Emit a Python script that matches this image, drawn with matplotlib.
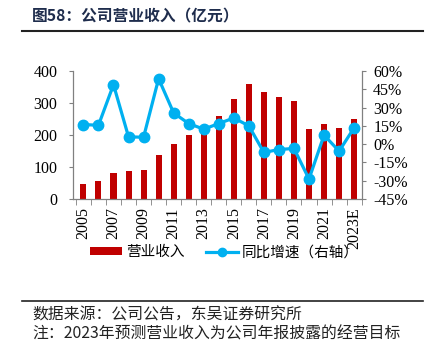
import matplotlib
matplotlib.use("Agg")
import matplotlib.pyplot as plt
from matplotlib.patches import Patch
from matplotlib.lines import Line2D
from matplotlib.ticker import FixedLocator, FuncFormatter

plt.rcParams['font.family'] = ['Liberation Serif', 'Noto Sans CJK SC', 'DejaVu Sans']

years = ['2005', '2006', '2007', '2008', '2009', '2010', '2011', '2012', '2013',
         '2014', '2015', '2016', '2017', '2018', '2019', '2020', '2021', '2022', '2023E']
revenue = [48, 56, 82, 87, 90, 138, 172, 200, 222,
           260, 314, 360, 334, 320, 307, 220, 235, 221, 249]
growth = [16.1, 15.5, 48.8, 6.0, 5.7, 53.7, 25.6, 16.9, 12.3,
          16.9, 21.5, 15.0, -6.8, -4.4, -3.5, -28.6, 7.4, -5.7, 13.4]

bar_color = '#C00000'
line_color = '#00B0F0'
axis_gray = '#808080'
cjk = ['Noto Sans CJK SC', 'DejaVu Sans']

fig = plt.figure(figsize=(4.27, 3.42), dpi=100)
ax = fig.add_axes([0.1700, 0.418, 0.678, 0.3744])
x = list(range(len(years)))

ax.bar(x, revenue, width=0.4, color=bar_color, zorder=2)
ax.set_ylim(0, 400)
ax.set_yticks([0, 100, 200, 300, 400])
ax.set_xlim(-0.72, len(years) - 0.47)

ax2 = ax.twinx()
ax2.plot(x, growth, color=line_color, lw=2.3, marker='o', ms=7.5, zorder=3)
ax2.set_ylim(-45, 60)
ax2.set_yticks(range(-45, 61, 15))
ax2.yaxis.set_major_formatter(FuncFormatter(lambda v, p: f'{int(v)}%'))

# category labels every other year, tick marks on category boundaries
ax.set_xticks([i for i in x if i % 2 == 0])
ax.set_xticklabels([years[i] for i in x if i % 2 == 0], rotation=90, fontsize=11.5)
ax.xaxis.set_minor_locator(FixedLocator([i - 0.5 for i in x] + [len(years) - 0.5]))
ax.tick_params(axis='x', which='major', length=0, pad=6)
ax.tick_params(axis='x', which='minor', length=4, color=axis_gray, direction='out')
ax.tick_params(axis='y', length=3, color=axis_gray, labelsize=11.5, pad=8)
ax2.tick_params(axis='y', length=3, color=axis_gray, labelsize=11.5, pad=5)

for a in (ax, ax2):
    a.spines['top'].set_visible(False)
    for s in ('left', 'right', 'bottom'):
        a.spines[s].set_color(axis_gray)
        a.spines[s].set_linewidth(0.9)
ax.spines['right'].set_visible(False)
ax2.spines['left'].set_visible(False)
ax2.spines['bottom'].set_visible(False)

handles = [Patch(facecolor=bar_color, edgecolor='none'),
           Line2D([0], [0], color=line_color, lw=2.3, marker='o', ms=6)]
leg = fig.legend(handles, ['营业收入', '同比增速（右轴）'], loc='center left',
                 bbox_to_anchor=(0.18, 0.262), ncol=2, frameon=False,
                 prop={'family': cjk, 'size': 10.5}, handlelength=2.2,
                 handleheight=0.5, handletextpad=0.25, columnspacing=1.5)
leg.set_zorder(5)

fig.text(0.075, 0.953, '图58：公司营业收入（亿元）', family=cjk, fontsize=11.3,
         fontweight='bold', color='#1F2D4D', va='center', ha='left')
fig.add_artist(Line2D([0.052, 0.99], [0.909, 0.909], color='#222222', lw=1.5))
fig.add_artist(Line2D([0.052, 0.99], [0.12, 0.12], color='#222222', lw=1.2))
fig.text(0.075, 0.078, '数据来源：公司公告，东吴证券研究所', family=cjk, fontsize=11.4,
         va='center', ha='left', color='#222222')
fig.text(0.075, 0.022, '注：2023年预测营业收入为公司年报披露的经营目标', family=cjk,
         fontsize=11.4, va='center', ha='left', color='#222222')

fig.savefig('out.png', dpi=100)
